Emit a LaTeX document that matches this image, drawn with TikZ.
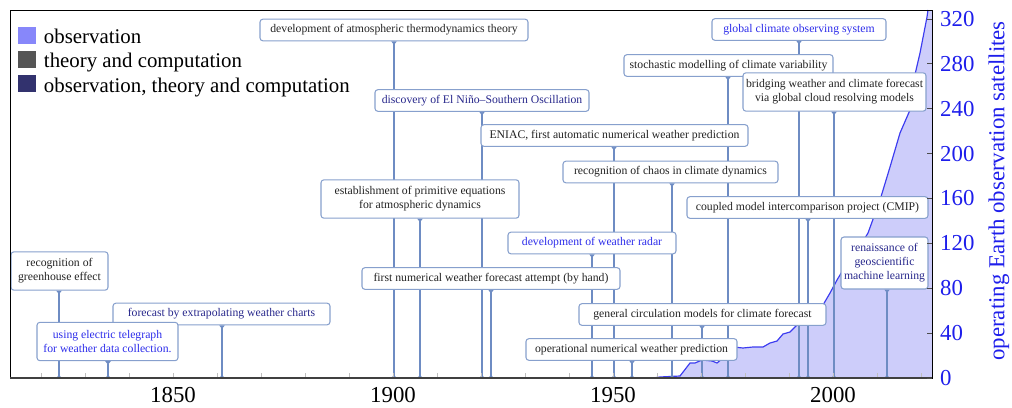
\documentclass[tikz,border=0pt]{standalone}
\usepackage{fontspec}
\setmainfont{Liberation Serif}
\usetikzlibrary{arrows.meta, positioning}

\definecolor{obsfill}{RGB}{135,135,250}
\definecolor{theofill}{RGB}{85,85,85}
\definecolor{combofill}{RGB}{50,50,110}
\definecolor{obstext}{RGB}{45,45,235}
\definecolor{combotext}{RGB}{40,40,140}
\definecolor{theotext}{RGB}{35,35,35}
\definecolor{boxline}{RGB}{135,160,205}
\definecolor{stemline}{RGB}{110,140,195}
\definecolor{satline}{RGB}{60,60,240}
\definecolor{satfill}{RGB}{205,205,250}
\definecolor{axisblue}{RGB}{30,30,235}

\pgfdeclarelayer{area}
\pgfdeclarelayer{stems}
\pgfsetlayers{area,stems,main}

\tikzset{
    event/.style={rectangle, rounded corners=2.5pt, draw=boxline, line width=0.9pt, fill=white, align=center, font=\fontsize{10}{12}\selectfont, inner xsep=2pt, inner ysep=3pt, minimum height=0.65cm},
    theory/.style={event, text=theotext},
    observation/.style={event, text=obstext},
    combined/.style={event, text=combotext},
    stem/.style={draw=stemline, line width=0.9pt, {Triangle[reversed, length=3pt, width=4.5pt]}-{Circle[length=2.5pt]}},
    legendbox/.style={rectangle, minimum size=0.51cm, inner sep=0pt},
    legendtext/.style={font=\fontsize{17.8}{20}\selectfont, inner sep=0pt, text height=14pt, text depth=0pt},
    ticklabel/.style={font=\fontsize{19.5}{22}\selectfont},
    yeartick/.style={draw=black!25, line width=0.6pt},
    sattick/.style={draw=black!70, line width=0.6pt}
}

\newcommand{\satcurve}{(653,29) -- (660,30) -- (680,31) -- (690,44) -- (695,44) -- (702,47) -- (712,46) -- (717,44) -- (723,49) -- (733,60) -- (743,59) -- (753,60) -- (763,60) -- (770,64) -- (777,66) -- (783,73) -- (790,75) -- (797,82) -- (803,87) -- (813,94) -- (823,102) -- (830,114) -- (837,127) -- (843,137) -- (853,149) -- (868,174) -- (880,207) -- (890,240) -- (900,274) -- (910,297) -- (913,324) -- (920,354) -- (927,390) -- (928,397)}

\begin{document}
\begin{tikzpicture}[x=0.03cm, y=0.03cm]
\useasboundingbox (0,0) rectangle (1012,407);

% Satellites
\begin{pgfonlayer}{area}
\fill[satfill] \satcurve -- (932,397) -- (932,29) -- cycle;
\draw[satline, line width=1pt] \satcurve;
\end{pgfonlayer}

% Years on the axis
\foreach \yr in {1820,1830,...,2020}
    \draw[yeartick] ({613+(\yr-1950)*4.4},29) -- ++(0,5);
\foreach \yr in {1850,1900,1950,2000}
    \node[ticklabel] at ({613+(\yr-1950)*4.4},11.5) {\yr};

\coordinate (t1824) at (59,29);
\coordinate (t1835) at (108,29);
\coordinate (t1861) at (222,29);
\coordinate (t1900) at (394,29);
\coordinate (t1906) at (420,29);
\coordinate (t1920) at (482,29);
\coordinate (t1922) at (491,29);
\coordinate (t1945) at (592,29);
\coordinate (t1950) at (614,29);
\coordinate (t1954) at (632,29);
\coordinate (t1963) at (672,29);
\coordinate (t1970) at (702,29);
\coordinate (t1976) at (728,29);
\coordinate (t1992) at (799,29);
\coordinate (t1995) at (808,29);
\coordinate (t2000) at (834,29);
\coordinate (t2012) at (887,29);

% Events
\node (greenhouse) [theory, minimum width=2.91cm, minimum height=1.15cm] at (59.5,136) {recognition of\\ greenhouse effect};
\node (charts) [combined, minimum width=6.51cm] at (221.5,93) {forecast by extrapolating weather charts};
\node (telegraph) [observation, minimum width=4.23cm, minimum height=1.15cm] at (107.5,65.5) {using electric telegraph\\ for weather data collection.};
\node (thermo) [theory, minimum width=8.04cm] at (394,377) {development of atmospheric thermodynamics theory};
\node (elnino) [combined, minimum width=6.42cm] at (482,306.5) {discovery of El Niño–Southern Oscillation};
\node (primitive) [theory, minimum width=5.94cm, minimum height=1.15cm] at (420,208) {establishment of primitive equations\\ for atmospheric dynamics};
\node (eniac) [theory, minimum width=8.01cm] at (614.5,271.5) {ENIAC, first automatic numerical weather prediction};
\node (chaos) [theory, minimum width=6.45cm] at (670.5,235) {recognition of chaos in climate dynamics};
\node (radar) [observation, minimum width=5.04cm] at (592,164) {development of weather radar};
\node (firstnwp) [theory, minimum width=7.74cm] at (491,128.5) {first numerical weather forecast attempt (by hand)};
\node (stochastic) [theory, minimum width=6.27cm] at (728.5,341.5) {stochastic modelling of climate variability};
\node (gcos) [observation, minimum width=5.22cm] at (799,377.5) {global climate observing system};
\node (bridging) [theory, minimum width=5.49cm, minimum height=1.15cm] at (834.5,315) {bridging weather and climate forecast\\ via global cloud resolving models};
\node (cmip) [theory, minimum width=7.23cm] at (807.5,199.5) {coupled model intercomparison project (CMIP)};
\node (renaissance) [combined, minimum width=2.61cm, minimum height=1.56cm] at (884.5,144) {renaissance of\\ geoscientific\\ machine learning};
\node (gcm) [theory, minimum width=7.41cm] at (702.5,92.5) {general circulation models for climate forecast};
\node (opnwp) [theory, minimum width=6.33cm] at (631.5,57.5) {operational numerical weather prediction};

% Stems
\begin{pgfonlayer}{stems}
\draw [stem] (greenhouse.south -| t1824) -- (t1824);
\draw [stem] (telegraph.south -| t1835) -- (t1835);
\draw [stem] (charts.south -| t1861) -- (t1861);
\draw [stem] (thermo.south -| t1900) -- (t1900);
\draw [stem] (primitive.south -| t1906) -- (t1906);
\draw [stem] (elnino.south -| t1920) -- (t1920);
\draw [stem] (firstnwp.south -| t1922) -- (t1922);
\draw [stem] (radar.south -| t1945) -- (t1945);
\draw [stem] (eniac.south -| t1950) -- (t1950);
\draw [stem] (opnwp.south -| t1954) -- (t1954);
\draw [stem] (chaos.south -| t1963) -- (t1963);
\draw [stem] (gcm.south -| t1970) -- (t1970);
\draw [stem] (stochastic.south -| t1976) -- (t1976);
\draw [stem] (gcos.south -| t1992) -- (t1992);
\draw [stem] (cmip.south -| t1995) -- (t1995);
\draw [stem] (bridging.south -| t2000) -- (t2000);
\draw [stem] (renaissance.south -| t2012) -- (t2012);
\end{pgfonlayer}

% Frame and satellite axis
\draw[black, line width=0.8pt] (10,29) rectangle (932,397);
\draw[black!75, line width=1.6pt] (10,29) -- (932,29);
\foreach \s in {0,40,...,320} {
    \draw[sattick] (932,{29+\s*1.122}) -- ++(-5,0);
    \node[ticklabel, text=axisblue, anchor=west, inner sep=0pt] at (940,{29+\s*1.122}) {\s};
}
\node[ticklabel, text=axisblue, rotate=90] (satlabel) at (999,216) {operating Earth observation satellites};

% Legend
\node (legobs) [legendbox, fill=obsfill] at (27,372) {};
\node (legtheo) [legendbox, fill=theofill, below=0.21cm of legobs] {};
\node (legboth) [legendbox, fill=combofill, below=0.21cm of legtheo] {};
\node [legendtext, right=0.24cm of legobs] {observation};
\node [legendtext, right=0.24cm of legtheo] {theory and computation};
\node [legendtext, right=0.24cm of legboth] {observation, theory and computation};

\end{tikzpicture}
\end{document}
